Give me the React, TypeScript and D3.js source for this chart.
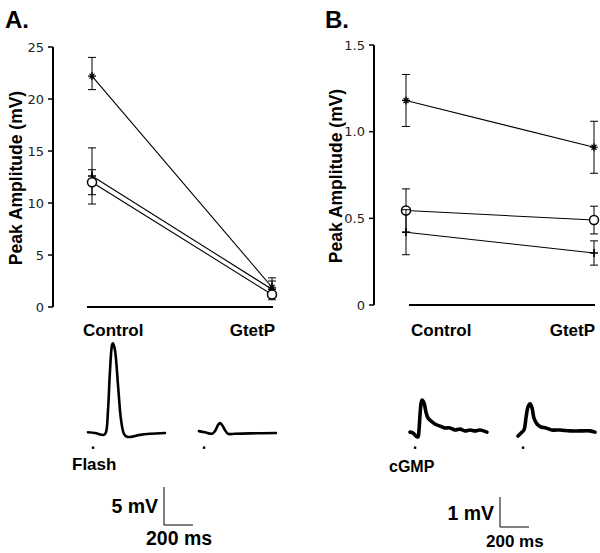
import React from "react";
import * as d3 from "d3";

// ---------- Data ----------
const categories = ["Control", "GtetP"];

// Panel A (Flash) peak amplitudes (mV)
const aStar = [22.2, 1.9];
const aStarErr = [[20.9, 24.0], [1.4, 2.5]];
const aPlus = [12.6, 1.7];
const aPlusErr = [[9.9, 15.3], [1.1, 2.8]];
const aCircle = [12.0, 1.2];
const aCircleErr = [[10.8, 13.2], [0.7, 1.7]];
const aTicks = [0, 5, 10, 15, 20, 25];

// Panel B (cGMP) peak amplitudes (mV)
const bStar = [1.18, 0.91];
const bStarErr = [[1.03, 1.33], [0.76, 1.06]];
const bCircle = [0.545, 0.49];
const bCircleErr = [[0.42, 0.67], [0.41, 0.57]];
const bPlus = [0.42, 0.3];
const bPlusErr = [[0.29, 0.55], [0.23, 0.37]];
const bTicks = [0, 0.5, 1.0, 1.5];
const bTickLabels = ["0", "0.5", "1.0", "1.5"];

// Example traces: time (ms), voltage (mV)
const traceAControlT = [0, 48, 110, 124, 138, 152, 166, 172, 186, 207, 228, 248, 269, 303, 359, 428, 531];
const traceAControlV = [0.1, 0, -0.25, 0.1, 3.0, 8.3, 11.6, 11.8, 10.9, 6.3, 1.7, -0.1, -0.5, -0.5, -0.25, -0.1, 0];
const traceAGtetPT = [0, 41, 90, 110, 131, 145, 159, 179, 200, 248, 352, 531];
const traceAGtetPV = [0.25, 0.1, -0.1, 0.25, 1.05, 1.3, 1.05, 0.4, -0.1, -0.1, -0.05, 0];

const traceBControlT = [0, 21, 41, 55, 62, 69, 76, 83, 97, 110, 124, 145, 172, 207, 241, 276, 310, 345, 379, 414, 448, 483, 531];
const traceBControlV = [0.03, 0, -0.1, -0.13, 0.1, 0.6, 0.97, 1.1, 1.0, 0.7, 0.5, 0.4, 0.3, 0.23, 0.17, 0.17, 0.1, 0.13, 0.07, 0.1, 0.07, 0.1, 0.03];
const traceBGtetPT = [0, 21, 41, 55, 69, 83, 97, 110, 131, 159, 193, 234, 290, 359, 428, 497, 531];
const traceBGtetPV = [-0.1, 0, 0.1, 0.5, 0.87, 0.97, 0.83, 0.5, 0.3, 0.2, 0.17, 0.1, 0.1, 0.07, 0.07, 0.07, 0.03];

const stimTime = 35; // ms
const scaleBarA = { mv: 5, ms: 200 };
const scaleBarB = { mv: 1, ms: 200 };

// ---------- Helpers ----------
const FONT = "'Liberation Sans', Arial, Helvetica, sans-serif";
const TICK_FONT = "'DejaVu Sans', sans-serif";

type Marker = "star" | "plus" | "circle";

function MarkerShape({ type, x, y }: { type: Marker; x: number; y: number }) {
  if (type === "circle") {
    return <circle cx={x} cy={y} r={4.5} fill="white" stroke="#000" strokeWidth={1.5} />;
  }
  if (type === "plus") {
    return (
      <path d={`M${x - 4},${y}H${x + 4}M${x},${y - 4}V${y + 4}`} stroke="#000" strokeWidth={1.6} />
    );
  }
  return (
    <path
      d={`M${x - 4},${y}H${x + 4}M${x},${y - 4}V${y + 4}M${x - 2.5},${y - 2.5}L${x + 2.5},${y + 2.5}M${x - 2.5},${y + 2.5}L${x + 2.5},${y - 2.5}`}
      stroke="#000"
      strokeWidth={1.2}
    />
  );
}

type Series = { values: number[]; err: number[][]; marker: Marker };

function Panel({
  letter, axisX, top, bottom, domainMax, ticks, tickLabels, range, baseline, series, catLabelX, letterX, axisLabelX,
}: {
  letter: string; axisX: number; top: number; bottom: number; domainMax: number; ticks: number[]; tickLabels: string[];
  range: [number, number]; baseline: [number, number]; series: Series[]; catLabelX: [number, number];
  letterX: number; axisLabelX: number;
}) {
  const y = d3.scaleLinear().domain([0, domainMax]).range([bottom, top]);
  const x = d3.scalePoint<string>().domain(categories).range(range);
  const line = d3.line<number>().x((_, i) => x(categories[i]) as number).y((v) => y(v));
  return (
    <g>
      <text x={letterX} y={28} fontFamily={FONT} fontWeight="bold" fontSize={24}>
        {letter}
      </text>
      <line x1={axisX} x2={axisX} y1={top} y2={bottom} stroke="#000" strokeWidth={2} />
      {ticks.map((t, i) => (
        <g key={i}>
          <line x1={axisX - 5} x2={axisX} y1={y(t)} y2={y(t)} stroke="#000" strokeWidth={1.5} />
          <text x={axisX - 9} y={y(t) + 4.5} textAnchor="end" fontFamily={TICK_FONT} fontSize={13} fill="#222">
            {tickLabels[i]}
          </text>
        </g>
      ))}
      <text
        transform={`translate(${axisLabelX},${(top + bottom) / 2 + 1}) rotate(-90)`}
        textAnchor="middle"
        fontFamily={FONT}
        fontWeight="bold"
        fontSize={17.5}
      >
        Peak Amplitude (mV)
      </text>
      <line x1={baseline[0]} x2={baseline[1]} y1={bottom} y2={bottom} stroke="#000" strokeWidth={2.2} />
      {series.map((s, si) => (
        <g key={si}>
          <path d={line(s.values) || ""} fill="none" stroke="#000" strokeWidth={1.1} />
          {s.err.map((e, i) => {
            const cx = x(categories[i]) as number;
            return (
              <path
                key={i}
                d={`M${cx},${y(e[0])}V${y(e[1])}M${cx - 4},${y(e[0])}H${cx + 4}M${cx - 4},${y(e[1])}H${cx + 4}`}
                stroke="#000"
                strokeWidth={1}
                fill="none"
              />
            );
          })}
          {s.values.map((v, i) => (
            <MarkerShape key={i} type={s.marker} x={x(categories[i]) as number} y={y(v)} />
          ))}
        </g>
      ))}
      <text x={catLabelX[0]} y={336} fontFamily={FONT} fontWeight="bold" fontSize={17}>
        {categories[0]}
      </text>
      <text x={catLabelX[1]} y={336} textAnchor="end" fontFamily={FONT} fontWeight="bold" fontSize={17}>
        {categories[1]}
      </text>
    </g>
  );
}

function Trace({
  t, v, x0, y0, pxPerMs, pxPerMv, width,
}: { t: number[]; v: number[]; x0: number; y0: number; pxPerMs: number; pxPerMv: number; width: number }) {
  const xs = d3.scaleLinear().domain([0, 1]).range([x0, x0 + pxPerMs]);
  const ys = d3.scaleLinear().domain([0, 1]).range([y0, y0 - pxPerMv]);
  const pts = t.map((tt, i) => [xs(tt), ys(v[i])] as [number, number]);
  const path = d3.line().curve(d3.curveCatmullRom.alpha(0.5))(pts) || "";
  return (
    <g>
      <path d={path} fill="none" stroke="#000" strokeWidth={width} strokeLinejoin="round" strokeLinecap="round" />
      <rect x={xs(stimTime) - 1.2} y={446.5} width={2.4} height={2.4} fill="#000" />
    </g>
  );
}

function ScaleBar({
  x, yBottom, mv, ms, pxPerMs, pxPerMv, mvFontSize, msFontSize, mvLabelDy, msLabelX, msLabelY,
}: {
  x: number; yBottom: number; mv: number; ms: number; pxPerMs: number; pxPerMv: number;
  mvFontSize: number; msFontSize: number; mvLabelDy: number; msLabelX: number; msLabelY: number;
}) {
  const h = mv * pxPerMv;
  const w = ms * pxPerMs;
  return (
    <g fontFamily={FONT} fontWeight="bold">
      <path d={`M${x},${yBottom - h}V${yBottom}H${x + w}`} fill="none" stroke="#000" strokeWidth={1} />
      <text x={x - 6} y={yBottom - h / 2 + mvLabelDy} textAnchor="end" fontSize={mvFontSize}>
        {`${mv} mV`}
      </text>
      <text x={msLabelX} y={msLabelY} fontSize={msFontSize}>
        {`${ms} ms`}
      </text>
    </g>
  );
}

export default function App() {
  const pxPerMs = 0.145;
  const pxPerMvA = 7.6;
  const pxPerMvB = 30;
  return (
    <svg
      width={600}
      height={553}
      viewBox="0 0 600 553"
      style={{ position: "absolute", left: 0, top: 0, background: "#fff" }}
    >
      <rect x={0} y={0} width={600} height={553} fill="#fff" />
      <Panel
        letter="A."
        axisX={53}
        top={47}
        bottom={307}
        domainMax={25}
        ticks={aTicks}
        tickLabels={aTicks.map(String)}
        range={[92, 272]}
        baseline={[87, 273]}
        series={[
          { values: aStar, err: aStarErr, marker: "star" },
          { values: aPlus, err: aPlusErr, marker: "plus" },
          { values: aCircle, err: aCircleErr, marker: "circle" },
        ]}
        catLabelX={[83, 275]}
        letterX={5}
        axisLabelX={22}
      />
      <Panel
        letter="B."
        axisX={374}
        top={45}
        bottom={305}
        domainMax={1.5}
        ticks={bTicks}
        tickLabels={bTickLabels}
        range={[406, 594]}
        baseline={[409, 595]}
        series={[
          { values: bStar, err: bStarErr, marker: "star" },
          { values: bCircle, err: bCircleErr, marker: "circle" },
          { values: bPlus, err: bPlusErr, marker: "plus" },
        ]}
        catLabelX={[411, 595]}
        letterX={325}
        axisLabelX={342}
      />

      <Trace t={traceAControlT} v={traceAControlV} x0={88} y0={433} pxPerMs={pxPerMs} pxPerMv={pxPerMvA} width={2.6} />
      <Trace t={traceAGtetPT} v={traceAGtetPV} x0={199} y0={433} pxPerMs={pxPerMs} pxPerMv={pxPerMvA} width={2.6} />
      <Trace t={traceBControlT} v={traceBControlV} x0={410} y0={433} pxPerMs={pxPerMs} pxPerMv={pxPerMvB} width={3.6} />
      <Trace t={traceBGtetPT} v={traceBGtetPV} x0={518} y0={433} pxPerMs={pxPerMs} pxPerMv={pxPerMvB} width={3.6} />

      <text x={72} y={470} fontFamily={FONT} fontWeight="bold" fontSize={17}>Flash</text>
      <text x={389} y={472} fontFamily={FONT} fontWeight="bold" fontSize={16}>cGMP</text>

      <ScaleBar x={164} yBottom={525} mv={scaleBarA.mv} ms={scaleBarA.ms} pxPerMs={pxPerMs} pxPerMv={pxPerMvA}
        mvFontSize={19.5} msFontSize={19.5} mvLabelDy={7} msLabelX={146} msLabelY={545} />
      <ScaleBar x={500} yBottom={527} mv={scaleBarB.mv} ms={scaleBarB.ms} pxPerMs={pxPerMs} pxPerMv={pxPerMvB}
        mvFontSize={19.5} msFontSize={17} mvLabelDy={8} msLabelX={486} msLabelY={547} />
    </svg>
  );
}
